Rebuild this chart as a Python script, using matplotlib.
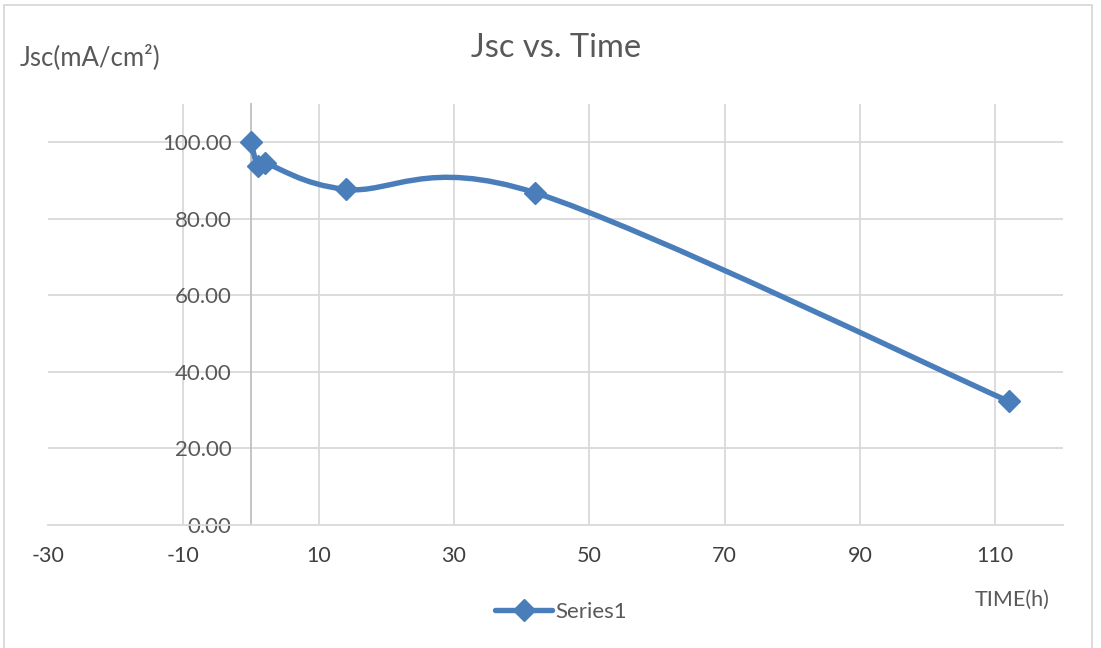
import matplotlib
matplotlib.use("Agg")
import matplotlib.pyplot as plt
from matplotlib.path import Path
from matplotlib.patches import PathPatch, Rectangle
from matplotlib.lines import Line2D
import numpy as np

time_h = [0, 1, 2, 14, 42, 112]
jsc = [100.0, 93.7, 94.6, 87.7, 86.8, 32.3]
x_ticks = [-30, -10, 10, 30, 50, 70, 90, 110]
y_ticks = [0, 20, 40, 60, 80, 100]
title = "Jsc vs. Time"
y_label = "Jsc(mA/cm²)"
x_label = "TIME(h)"
series_name = "Series1"

COLOR = "#4a7ebb"
FONT = "Lato"

fig = plt.figure(figsize=(11.01, 6.48), dpi=100)
W, H = 1101, 648
ax = fig.add_axes([48 / W, 1 - 525 / H, 1015 / W, 421 / H])
ax.set_xlim(-30, 120)
ax.set_ylim(0, 110)

# smooth curve (Catmull-Rom as cubic Bezier, like Excel's smoothed line)
pts = np.column_stack([time_h, jsc])
verts = [pts[0]]
codes = [Path.MOVETO]
n = len(pts)
for i in range(n - 1):
    p0 = pts[i - 1] if i > 0 else pts[i]
    p1 = pts[i]
    p2 = pts[i + 1]
    p3 = pts[i + 2] if i + 2 < n else pts[i + 1]
    c1 = p1 + (p2 - p0) / 6.0
    c2 = p2 - (p3 - p1) / 6.0
    verts += [c1, c2, p2]
    codes += [Path.CURVE4] * 3
ax.add_patch(PathPatch(Path(verts, codes), facecolor="none", edgecolor=COLOR,
                       lw=3.9, capstyle="round", joinstyle="round", zorder=3))
ax.plot(time_h, jsc, linestyle="none", marker="D", markersize=11,
        color=COLOR, zorder=4)

# grid
for xv in x_ticks:
    if xv == -30:
        continue
    ax.axvline(xv, color="#d9d9d9", lw=1.3, zorder=0)
for yv in y_ticks[1:]:
    ax.axhline(yv, color="#d9d9d9", lw=1.3, zorder=0)

for s in ["top", "right"]:
    ax.spines[s].set_visible(False)
ax.spines["left"].set_position(("data", 0))
ax.spines["left"].set_color("#bfbfbf")
ax.spines["left"].set_linewidth(1.3)
ax.spines["bottom"].set_color("#d9d9d9")
ax.spines["bottom"].set_linewidth(1.3)

ax.set_xticks(x_ticks)
ax.set_xticklabels([str(v) for v in x_ticks], fontfamily=FONT, fontsize=15.5, color="#404040")
ax.set_yticks(y_ticks)
ax.set_yticklabels([f"{v:.2f}" for v in y_ticks], fontfamily=FONT, fontsize=16, color="#595959")
ax.tick_params(axis="x", length=0, pad=15)
ax.tick_params(axis="y", length=0, pad=14)

fig.text(556 / W, 1 - 48 / H, title, ha="center", va="center",
         fontfamily=FONT, fontsize=23.5, color="#595959")
fig.text(20 / W, 1 - 57 / H, y_label, ha="left", va="center",
         fontfamily=FONT, fontsize=18.5, color="#595959")
fig.text(1012 / W, 1 - 600 / H, x_label, ha="center", va="center",
         fontfamily=FONT, fontsize=15.5, color="#595959")

handle = Line2D([], [], color=COLOR, lw=3.9, marker="D", markersize=11,
                solid_capstyle="round")
leg = fig.legend([handle], [series_name], loc="center", bbox_to_anchor=(561 / W, 1 - 612 / H),
                 frameon=False, prop={"family": FONT, "size": 16}, handlelength=2.6,
                 handletextpad=0.15)
for t in leg.get_texts():
    t.set_color("#595959")

fig.patches.append(Rectangle((4 / W, -0.01), 1088 / W, 1 - 5 / H + 0.01,
                             transform=fig.transFigure, fill=False,
                             edgecolor="#d9d9d9", lw=1.3))

fig.savefig("out.png", dpi=100)
